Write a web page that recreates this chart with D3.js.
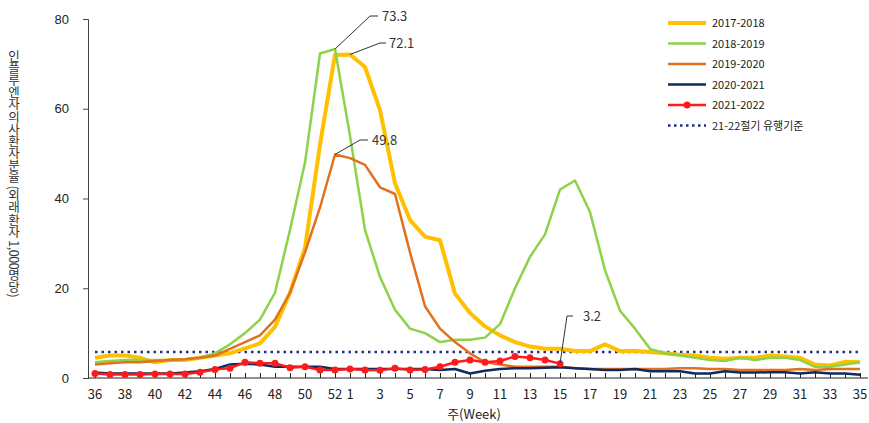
<!DOCTYPE html>
<html><head><meta charset="utf-8">
<script src="https://cdn.jsdelivr.net/npm/d3@7"></script>
<style>
body{margin:0;background:#fff;font-family:"Noto Sans CJK KR","Noto Sans",sans-serif}
</style></head><body>
<svg id="c" width="869" height="423"></svg>
<script>
var weeks = [36,37,38,39,40,41,42,43,44,45,46,47,48,49,50,51,52,1,2,3,4,5,6,7,8,9,10,11,12,13,14,15,16,17,18,19,20,21,22,23,24,25,26,27,28,29,30,31,32,33,34,35];
var s1718 = [4.5,5,5,4.5,3.5,4,4,4.5,5,5.5,6.6,7.7,11.4,19,29,52,72,72.1,69.3,59.7,43.4,35.2,31.5,30.7,18.8,14.5,11.5,9.5,8,7,6.5,6.5,6,6,7.5,6,6,5.8,5.5,5.2,5,4.5,4.3,4.5,4.5,5,4.8,4.5,3,2.8,3.6,3.5];
var s1819 = [3.5,3.8,4,4,4,4,4.2,4.5,5.5,7.5,10,13,19,33,48,72.3,73.3,54,33,22.5,15.2,11,10,8,8.5,8.5,9,12,20,27,32,42,44,37,24,15,11,6.5,5.5,5,4.5,4,3.8,4.5,4,4.5,4.5,4,2.5,2.5,3,3.5];
var s1920 = [3,3.3,3.5,3.5,3.8,4,4.2,4.5,5,6.5,8,9.5,13,19,28,38,49.8,49,47.5,42.5,41,28,16,11,8,5.5,3.5,3,2.5,2.5,2.5,2.5,2.2,2,2,2,2,2,2,2.2,2.2,2,2,1.8,1.8,1.8,1.8,2,1.8,2,2,2];
var s2021 = [1.2,1,1,1,1,1,1.2,1.5,2,3,3.2,3,2.5,2.5,2.5,2.5,2,2,2,2,2,2,2,1.8,2,1,1.6,2,2.2,2.2,2.3,2.4,2.2,2,1.8,1.8,2,1.5,1.5,1.5,1,1,1.5,1.2,1.2,1.3,1.3,1,1.3,1,1,0.7];
var s2122 = [1,0.8,0.8,0.8,0.9,0.9,0.9,1.3,1.9,2.2,3.5,3.3,3.3,2.3,2.5,1.8,1.8,2,1.8,1.7,2.2,1.8,1.9,2.5,3.5,4,3.5,3.8,4.8,4.5,4,3.2];
var threshold = 5.8;
var yTicks = [0,20,40,60,80];
var seriesNames = ["2017-2018","2018-2019","2019-2020","2020-2021","2021-2022"];
var seriesColors = ["#FFC000","#8ED14B","#E2711D","#0E2A5E","#FF1A1A"];
var seriesWidths = [4,2.5,2.5,2.5,2.5];
var seriesData = [s1718,s1819,s1920,s2021,s2122];

var svg = d3.select('#c');
var x = d3.scalePoint().domain(d3.range(weeks.length)).range([95,860]);
var y = d3.scaleLinear().domain([0,80]).range([378,19]);

// axes
var ya = svg.append('g').attr('transform','translate(88,0)')
	.call(d3.axisLeft(y).tickValues(yTicks).tickSize(5).tickPadding(14));
ya.select('.domain').attr('stroke','#444');
ya.selectAll('.tick line').attr('stroke','#444');
ya.selectAll('text').style('font-size','13px').attr('fill','#222');
var xa = svg.append('g').attr('transform','translate(0,378)')
	.call(d3.axisTop(x).tickSize(5).tickFormat(''));
xa.select('.domain').attr('d','M88,0H868').attr('stroke','#222');
xa.selectAll('.tick line').attr('stroke','#222');
var labelIdx = d3.range(weeks.length).filter(function(i){return i<=16 ? i%2==0 : i%2==1});
svg.append('g').selectAll('text').data(labelIdx).enter().append('text')
	.attr('x',function(i){return x(i)}).attr('y',399).attr('text-anchor','middle')
	.style('font-size','13px').attr('fill','#222').text(function(i){return weeks[i]});
svg.append('text').attr('x',474).attr('y',419).attr('text-anchor','middle')
	.style('font-size','13px').attr('fill','#222').text('주(Week)');
svg.append('text').attr('transform','translate(14,50)')
	.style('writing-mode','vertical-rl').style('text-orientation','mixed')
	.style('font-size','12.5px').style('letter-spacing','-0.4px').attr('fill','#333')
	.text('인플루엔자의사환자분율 (외래환자 1,000명당)');

// threshold
svg.append('line').attr('x1',x(0)).attr('x2',x(weeks.length-1)).attr('y1',y(threshold)).attr('y2',y(threshold))
	.attr('stroke','#1F2F8A').attr('stroke-width',2.5).attr('stroke-dasharray','2.5,4');

var line = d3.line().x(function(d,i){return x(i)}).y(function(d){return y(d)});
seriesData.forEach(function(s,k){
	svg.append('path').datum(s).attr('d',line).attr('fill','none')
		.attr('stroke',seriesColors[k]).attr('stroke-width',seriesWidths[k]).attr('stroke-linejoin','round');
});
svg.append('g').selectAll('circle').data(s2122).enter().append('circle')
	.attr('cx',function(d,i){return x(i)}).attr('cy',function(d){return y(d)}).attr('r',3.5).attr('fill','#FF1A1A');

// annotations
function note(i,v,pts,label,tx,ty){
	var p=[[x(i),y(v)]].concat(pts);
	svg.append('path').attr('d',d3.line()(p)).attr('fill','none').attr('stroke','#333').attr('stroke-width',1);
	svg.append('text').attr('x',tx).attr('y',ty).style('font-size','13px').attr('fill','#333').text(label);
}
note(16,73.3,[[370,16],[378,16]],'73.3',382,21);
note(17,72.1,[[380,43],[386,43]],'72.1',389,48);
note(16,49.8,[[360,140],[368,140]],'49.8',372,145);
note(31,3.2,[[567,316],[573,316]],'3.2',583,321);

// legend
var lg = svg.append('g').selectAll('g').data(seriesNames.concat(['21-22절기 유행기준'])).enter().append('g')
	.attr('transform',function(d,i){return 'translate(668,'+(23+i*20.5)+')'});
lg.append('line').attr('x1',0).attr('x2',38)
	.attr('stroke',function(d,i){return i<5?seriesColors[i]:'#1F2F8A'})
	.attr('stroke-width',function(d,i){return i<5?seriesWidths[i]:2.5})
	.attr('stroke-dasharray',function(d,i){return i<5?null:'2.5,3.5'});
lg.filter(function(d,i){return i==4}).append('circle').attr('cx',19).attr('r',3.5).attr('fill','#FF1A1A');
lg.append('text').attr('x',44).attr('y',4).style('font-size','11px').attr('fill','#222').text(function(d){return d});
</script>
</body></html>
